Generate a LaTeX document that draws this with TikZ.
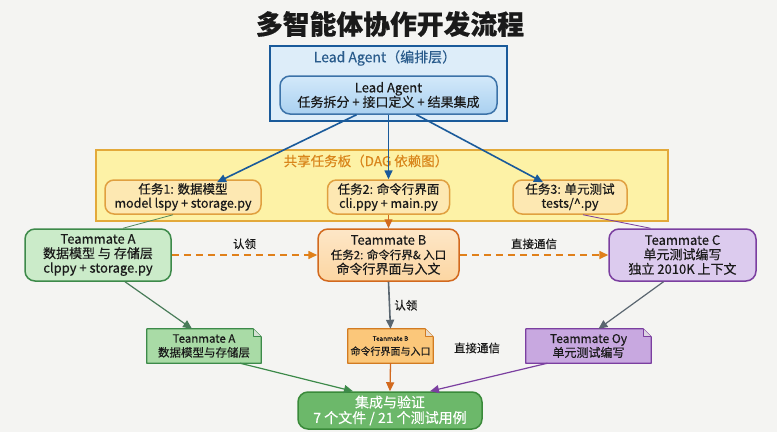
\documentclass[tikz,border=0pt]{standalone}
\usepackage{fontspec}
\setmainfont{Noto Sans CJK SC}[FakeBold=0.35]
\usetikzlibrary{arrows.meta}
\definecolor{bgc}{HTML}{F4F4F2}
\definecolor{blueB}{HTML}{1A5A9A}
\definecolor{blueOuter}{HTML}{DDEDF9}
\definecolor{blueInTop}{HTML}{D3E9FA}
\definecolor{blueInBot}{HTML}{A9D0F0}
\definecolor{blueT}{HTML}{2A5C8C}
\definecolor{yelFill}{HTML}{FDF2A6}
\definecolor{yelB}{HTML}{E3A93A}
\definecolor{yelT}{HTML}{D9861C}
\definecolor{taskFill}{HTML}{FDE8B2}
\definecolor{taskB}{HTML}{E0A040}
\definecolor{grnFill}{HTML}{CBEBC9}
\definecolor{grnB}{HTML}{3D8A4A}
\definecolor{orFill}{HTML}{FCD6A2}
\definecolor{orB}{HTML}{D2691E}
\definecolor{puFill}{HTML}{DCCBEE}
\definecolor{puB}{HTML}{7B3FA0}
\definecolor{nAFill}{HTML}{A9DBA6}
\definecolor{nBFill}{HTML}{FBC77A}
\definecolor{nBB}{HTML}{D27B22}
\definecolor{nCFill}{HTML}{C8A8E0}
\definecolor{finFill}{HTML}{6CB86A}
\definecolor{finB}{HTML}{3A8A3A}
\definecolor{dashC}{HTML}{E0801A}
\definecolor{grayA}{HTML}{5A6670}
\definecolor{txt}{HTML}{1A1A1A}
\tikzset{
  every node/.style={text=txt, inner sep=0pt, align=center},
  body/.style={font=\fontsize{13}{14.5}\selectfont},
  small/.style={font=\fontsize{11.5}{14}\selectfont},
  taskf/.style={font=\fontsize{12.5}{14}\selectfont},
  rbox/.style={rounded corners=10pt, line width=1.5pt},
  notebox/.style={minimum height=34pt},
  tip/.style={-{Triangle[length=9pt,width=8pt]}},
}
\newcommand{\drawnote}[3]{%
  \fill[#2] (#1.north west) -- ([xshift=-8pt]#1.north east) -- ([yshift=-8pt]#1.north east) -- (#1.south east) -- (#1.south west) -- cycle;
  \draw[#3, line width=1.2pt, line join=round] (#1.north west) -- ([xshift=-8pt]#1.north east) -- ([yshift=-8pt]#1.north east) -- (#1.south east) -- (#1.south west) -- cycle;
  \draw[#3, line width=0.9pt, line join=round, fill=#2!70!black!30!white] ([xshift=-8pt]#1.north east) -- ([xshift=-8pt,yshift=-8pt]#1.north east) -- ([yshift=-8pt]#1.north east);
}
\begin{document}
\begin{tikzpicture}[x=1pt,y=-1pt]
\fill[bgc] (0,0) rectangle (777,432);
\useasboundingbox (0,0) rectangle (777,432);

% title
\node[font=\fontsize{26.8}{30}\selectfont\bfseries] (title) at (390,24) {多智能体协作开发流程};

% lead agent layer
\node[draw=blueB, line width=1.8pt, fill=blueOuter, minimum width=237pt, minimum height=75pt] (lead) at (388.5,83.5) {};
\node[font=\fontsize{14}{15}\selectfont, text=blueT] (leadlbl) at (385,58) {Lead Agent（编排层）};
\node[rbox, body, draw=blueB!85, top color=blueInTop, bottom color=blueInBot, minimum width=217pt, minimum height=38pt] (inner) at (388.5,95) {Lead Agent\\任务拆分 + 接口定义 + 结果集成};

% shared board
\node[draw=yelB, line width=1.8pt, fill=yelFill, minimum width=572pt, minimum height=71pt] (board) at (382,185.5) {};
\node[font=\fontsize{13.5}{15}\selectfont, text=yelT] (boardlbl) at (366,161) {共享任务板（DAG 依赖图）};

\node[rbox, taskf, draw=taskB, fill=taskFill, minimum width=156pt, minimum height=34pt, rounded corners=9pt] (t1) at (183,197) {任务1: 数据模型\\model lspy + storage.py};
\node[rbox, taskf, draw=taskB, fill=taskFill, minimum width=122pt, minimum height=34pt, rounded corners=9pt] (t2) at (388.5,197) {任务2: 命令行界面\\cli.ppy + main.py};
\node[rbox, taskf, draw=taskB, fill=taskFill, minimum width=114pt, minimum height=34pt, rounded corners=9pt] (t3) at (570,197) {任务3: 单元测试\\tests/\textasciicircum.py};

% teammates
\node[rbox, body, draw=grnB, fill=grnFill, minimum width=146pt, minimum height=52pt] (ta) at (98,255) {Teammate A\\数据模型 与 存储层\\clppy + storage.py};
\node[rbox, body, draw=orB, top color=orFill!60!white, bottom color=orFill, minimum width=141pt, minimum height=52pt] (tb) at (388.5,255) {Teammate B\\{\fontsize{11.5}{14.5}\selectfont 任务2: 命令行界\& 入口}\\命令行界面与入文};
\node[rbox, body, draw=puB, fill=puFill, minimum width=147pt, minimum height=52pt] (tc) at (682.5,255) {Teammate C\\单元测试编写\\独立 2010K 上下文};

% notes
\node[notebox, minimum width=114pt] (na) at (204,346) {};
\drawnote{na}{nAFill}{grnB}
\node[small] (naT) at (na) {Teanmate A\\数据模型与存储层};
\node[notebox, minimum width=85pt] (nb) at (390.5,346) {};
\drawnote{nb}{nBFill}{nBB}
\node[font=\fontsize{10}{14}\selectfont] (nbT) at (nb) {{\fontsize{6.5}{9}\selectfont Teanmate B}\\命令行界面与入口};
\node[notebox, minimum width=125pt] (nc) at (588.5,346) {};
\drawnote{nc}{nCFill}{puB}
\node[font=\fontsize{12}{14}\selectfont] (ncT) at (nc) {Teammate Oy\\单元测试编写};

% final
\node[rbox, draw=finB, fill=finFill, minimum width=184pt, minimum height=37pt, text=white, font=\fontsize{14}{15.5}\selectfont] (fin) at (390,410.5) {集成与验证\\7 个文件 / 21 个测试用例};

% connectors lead -> tasks
\draw[blueB, line width=1.6pt, tip] ([xshift=-32pt]inner.south) -- ([xshift=34pt,yshift=-3pt]t1.north);
\draw[blueB, line width=1.6pt, tip] (inner.south) -- (t2.north);
\draw[blueB, line width=1.6pt, tip] ([xshift=28pt]inner.south) -- ([xshift=-27pt,yshift=-3pt]t3.north);

% tasks -> teammates
\draw[grnB!70!gray, line width=0.8pt] ([xshift=-10pt]t1.south) -- ([xshift=25pt]ta.north);
\draw[orB, line width=1.3pt, tip] (t2.south) -- (tb.north);
\draw[puB, line width=0.8pt] ([xshift=13pt]t3.south) -- ([xshift=-32pt]tc.north);

% dashed
\draw[dashC, line width=1.6pt, dash pattern=on 7pt off 5pt, tip] (ta.east) -- node[above=5pt, small] (l1) {认领} (tb.west);
\draw[dashC, line width=1.6pt, dash pattern=on 7pt off 5pt, tip] (tb.east) -- node[above=5pt, small] (l2) {直接通信} (tc.west);

% teammates -> notes
\draw[grnB!60!grayA, line width=1.2pt, tip] ([xshift=27pt]ta.south) -- ([xshift=-12pt]na.north);
\draw[grayA, line width=1.6pt, tip] (tb.south) -- node[right=4pt, small] (l3) {认领} (nb.north);
\draw[grayA, line width=1.2pt, tip] ([xshift=-19pt]tc.south) -- ([xshift=10pt]nc.north);

% notes -> final
\draw[grnB, line width=1.2pt, tip] ([xshift=36pt]na.south) -- ([xshift=-37pt]fin.north);
\draw[orB, line width=1.3pt, tip] (nb.south) -- (fin.north);
\draw[puB, line width=1.2pt, tip] ([xshift=-41pt]nc.south) -- ([xshift=40pt]fin.north);

\node[small] (l4) at (477,348) {直接通信};
\end{tikzpicture}
\end{document}
